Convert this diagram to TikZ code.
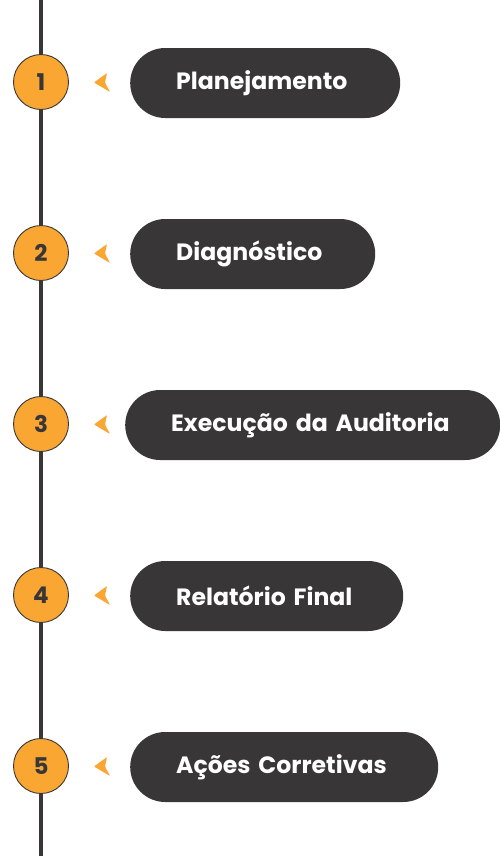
\documentclass[tikz,border=0pt]{standalone}
\usepackage{fontspec}
\setmainfont{Poppins}
\usepackage{xcolor}
\usepackage{tikz}
\usetikzlibrary{positioning}

\definecolor{darkgray}{HTML}{383637}
\definecolor{mango}{HTML}{F9A633}

\begin{document}
\begin{tikzpicture}[x=1pt, y=-1pt, every node/.style={font=\bfseries\fontsize{23.6}{28}\selectfont}, pill/.style={fill=darkgray,text=white,rounded corners=35pt,minimum height=70pt,inner ysep=0pt,inner xsep=46pt,align=left}, num/.style={circle,draw=darkgray,line width=0.9pt,fill=mango,text=darkgray,minimum size=55pt,inner sep=0pt,font=\bfseries\fontsize{23}{26}\selectfont}]
    \useasboundingbox (0,0) rectangle (500,857);
    \coordinate (top) at (41,0);
    \coordinate (bottom) at (41,856);
    \draw[darkgray, line width=4pt] (top) -- (bottom);
    \foreach \i/\y/\lft/\w/\lab in {1/82/130/270/Planejamento,2/253/130/245/Diagnóstico,3/424/125/375/Execução da Auditoria,4/595/130/273/Relatório Final,5/766/130/308/Ações Corretivas}{
      \node[num] (num\i) at (41,\y) {\i};
      \node[pill, text width=\w pt-92pt, anchor=west] (pill\i) at (\lft,\y+1) {\mbox{\lab}};
      \fill[mango, rounded corners=0.8pt] (94,\y+0.5) -- (107,\y-9) -- (105,\y+0.5) -- (110,\y+10) -- cycle;
    }
\end{tikzpicture}
\end{document}
